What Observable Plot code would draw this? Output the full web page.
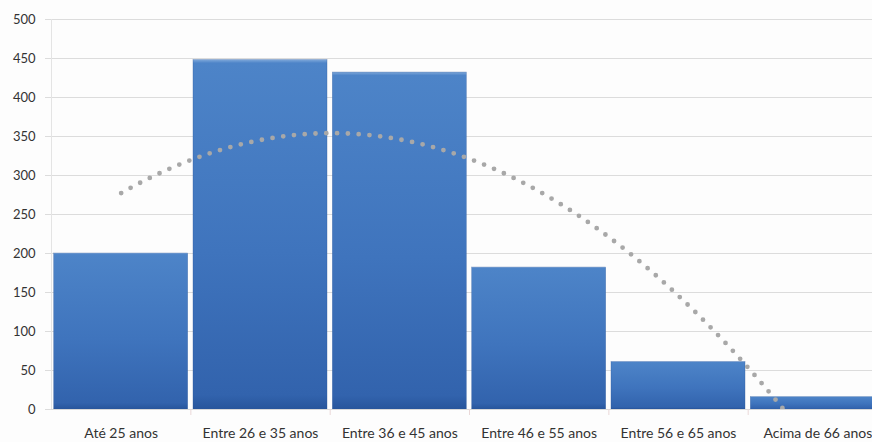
<!DOCTYPE html>
<html>
<head>
<meta charset="utf-8">
<script src="https://cdn.jsdelivr.net/npm/d3@7"></script>
<script src="https://cdn.jsdelivr.net/npm/@observablehq/plot@0.6"></script>
<style>
  html, body { margin: 0; padding: 0; background: #fdfdfd; overflow: hidden; }
  #chart { width: 872px; height: 442px; overflow: hidden; }
  #chart svg { display: block; max-width: none !important; }
</style>
</head>
<body>
<div id="chart"></div>
<script>
// Age groups and number of respondents in each
const categories = ["Até 25 anos", "Entre 26 e 35 anos", "Entre 36 e 45 anos", "Entre 46 e 55 anos", "Entre 56 e 65 anos", "Acima de 66 anos"];
const counts = [200, 448, 432, 182, 61, 16];
const yTicks = [0, 50, 100, 150, 200, 250, 300, 350, 400, 450, 500];

// Categories sit at positions 1..n on a linear x scale so the trendline can run between them
const rows = categories.map((c, i) => ({pos: i + 1, label: c, count: counts[i]}));

// Second-order polynomial trendline (least squares) fitted to the counts
function quadFit(xs, ys) {
  let s = [0, 0, 0, 0, 0], t = [0, 0, 0];
  xs.forEach((x, i) => {
    for (let k = 0; k <= 4; k++) s[k] += x ** k;
    for (let k = 0; k <= 2; k++) t[k] += ys[i] * x ** k;
  });
  const A = [[s[0], s[1], s[2]], [s[1], s[2], s[3]], [s[2], s[3], s[4]]];
  const det = m => m[0][0]*(m[1][1]*m[2][2]-m[1][2]*m[2][1]) - m[0][1]*(m[1][0]*m[2][2]-m[1][2]*m[2][0]) + m[0][2]*(m[1][0]*m[2][1]-m[1][1]*m[2][0]);
  const D = det(A);
  const coef = [0, 1, 2].map(j => det(A.map((r, i) => r.map((v, k) => k === j ? t[i] : v))) / D);
  return x => coef[0] + coef[1] * x + coef[2] * x * x;
}
const trend = quadFit(rows.map(d => d.pos), counts);
const trendPts = d3.range(1, 6.0001, 0.02).map(x => ({x, y: trend(x)}));

const font = "Lato, 'Open Sans', sans-serif";

const plot = Plot.plot({
  width: 887,
  height: 442,
  marginLeft: 51,
  marginRight: 0,
  marginTop: 19,
  marginBottom: 33,
  style: {fontFamily: font, fontSize: "13px", color: "#333", background: "#fdfdfd", maxWidth: "none"},
  x: {type: "linear", domain: [0.5, 6.5], label: null},
  y: {domain: [0, 500], label: null},
  marks: [
    Plot.gridY(yTicks, {x1: 0.5, x2: 6.5, stroke: "#dcdcdc", strokeOpacity: 1, strokeWidth: 1.2}),
    Plot.axisY(yTicks, {tickSize: 6, tickPadding: 10, stroke: "#dcdcdc", fill: "#333", fontSize: 13, label: null}),
    Plot.ruleX([0.5], {stroke: "#e4e4e4"}),
    Plot.rectY(rows, {x1: d => d.pos - 0.481, x2: d => d.pos + 0.481, y: "count", fill: "url(#barGrad)", stroke: "#2f5a9c", strokeWidth: 0.6, strokeOpacity: 0.5}),
    Plot.ruleY([0], {x1: 0.5, x2: 6.5, stroke: "#d8d8d8"}),
    Plot.axisX(d3.range(1.5, 6.5, 1), {tickSize: 6, stroke: "#ead8d8", tickFormat: () => "", label: null}),
    Plot.axisX(rows.map(d => d.pos), {tickSize: 0, tickPadding: 19, fontSize: 14, fill: "#333", tickFormat: p => categories[p - 1], label: null}),
    Plot.line(trendPts, {x: "x", y: "y", clip: true, stroke: "#a8a8a8", strokeWidth: 4.8, strokeDasharray: "0 10.8", strokeLinecap: "round"})
  ]
});

// Vertical shading for the bars
const defs = d3.select(plot).insert("defs", ":first-child");
const grad = defs.append("linearGradient").attr("id", "barGrad").attr("x1", 0).attr("y1", 0).attr("x2", 0).attr("y2", 1);
grad.append("stop").attr("offset", "0%").attr("stop-color", "#7fa8da");
grad.append("stop").attr("offset", "1%").attr("stop-color", "#4d84c8");
grad.append("stop").attr("offset", "55%").attr("stop-color", "#3f74bd");
grad.append("stop").attr("offset", "96%").attr("stop-color", "#3263ad");
grad.append("stop").attr("offset", "100%").attr("stop-color", "#27559c");

document.getElementById("chart").appendChild(plot);
</script>
</body>
</html>
